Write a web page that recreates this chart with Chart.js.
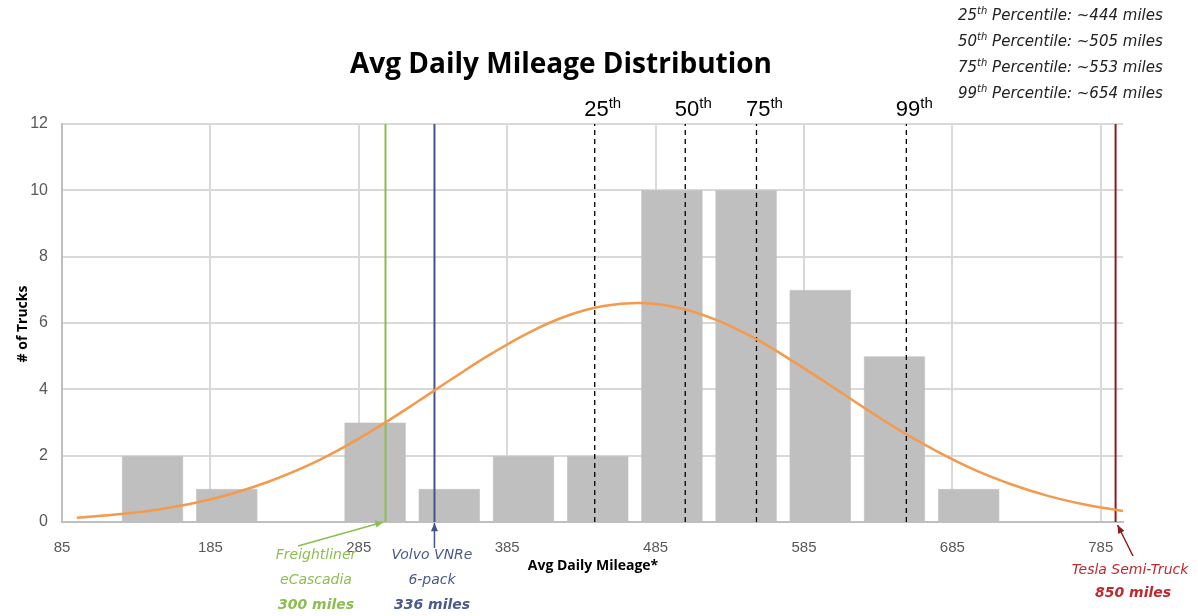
<!DOCTYPE html>
<html>
<head>
<meta charset="utf-8">
<script src="https://cdn.jsdelivr.net/npm/chart.js@4.4.1/dist/chart.umd.min.js"></script>
<style>
  body { margin: 0; background: #fff; }
</style>
</head>
<body>
<canvas id="chart" width="1198" height="616"></canvas>
<script>
// histogram bins (center of each 50-mile bin) and counts
const binCenters = [146, 196, 246, 296, 346, 396, 446, 496, 546, 596, 646, 696]
const truckCounts = [2, 1, 0, 3, 1, 2, 2, 10, 10, 7, 5, 1]

// fitted curve, values
const curveX = [95, 125, 150, 175, 200, 225, 250, 275, 300, 325, 350, 375, 400, 425, 450, 475,
                500, 525, 550, 575, 600, 625, 650, 675, 700, 725, 750, 775, 800]
const curveY = [0.13, 0.24, 0.38, 0.58, 0.86, 1.23, 1.69, 2.26, 2.92, 3.64, 4.38, 5.09, 5.72, 6.21, 6.51, 6.60,
                6.46, 6.11, 5.58, 4.92, 4.20, 3.46, 2.75, 2.12, 1.57, 1.13, 0.78, 0.52, 0.33]

// percentiles
const pctNames = ["25", "50", "75", "99"]
const pctMiles = [444, 505, 553, 654]

// trucks (tesla is drawn at the right edge of the axis)
const truckNames = [["Freightliner", "eCascadia"], ["Volvo VNRe", "6-pack"], ["Tesla Semi-Truck"]]
const truckRange = [300, 336, 850]
const truckLineX = [303, 336, 795]

const xTicks = [85, 185, 285, 385, 485, 585, 685, 785]
const yTicks = [0, 2, 4, 6, 8, 10, 12]

const truckColors = ["#8cbd4f", "#44548a", "#8b1c1c"]
const truckTextColors = ["#8cbd4f", "#4a5a8e", "#c0282d"]

let datasets = []

// percentile dashed lines
pctMiles.forEach(function(m) {
    datasets.push({
        type: 'line',
        data: [{x: m, y: 0}, {x: m, y: 12}],
        borderColor: '#000',
        borderWidth: 1.3,
        borderDash: [5, 4],
        pointRadius: 0,
        order: 1
    })
})

// truck range lines
truckLineX.forEach(function(m, i) {
    datasets.push({
        type: 'line',
        data: [{x: m, y: 0}, {x: m, y: 12}],
        borderColor: truckColors[i],
        borderWidth: 2,
        pointRadius: 0,
        order: 1
    })
})

datasets.push({
    type: 'line',
    data: curveX.map((x, i) => ({x: x, y: curveY[i]})),
    borderColor: '#f39a4c',
    borderWidth: 2.5,
    tension: 0.4,
    pointRadius: 0,
    order: 0
})

datasets.push({
    type: 'bar',
    data: binCenters.map((x, i) => ({x: x, y: truckCounts[i]})),
    backgroundColor: '#bfbfbf',
    borderColor: '#b0b0b0',
    borderWidth: 0.5,
    barPercentage: 0.83,
    categoryPercentage: 1,
    order: 2
})

function superText(ctx, base, sup, x, y, baseFont, supFont, align, lift) {
    ctx.font = baseFont
    let w1 = ctx.measureText(base).width
    ctx.font = supFont
    let w2 = ctx.measureText(sup).width
    let left = align == 'center' ? x - (w1 + w2) / 2 : x
    ctx.textAlign = 'left'
    ctx.font = baseFont
    ctx.fillText(base, left, y)
    ctx.font = supFont
    ctx.fillText(sup, left + w1, y - lift)
    return left + w1 + w2
}

const textPlugin = {
    id: 'texts',
    afterDraw(chart) {
        const ctx = chart.ctx
        const xs = chart.scales.x
        const ys = chart.scales.y
        ctx.save()
        ctx.textBaseline = 'alphabetic'

        // title
        ctx.fillStyle = '#000'
        ctx.textAlign = 'center'
        ctx.font = 'bold 28px "Open Sans"'
        ctx.fillText("Avg Daily Mileage Distribution", 561, 73)

        // percentile labels above lines
        ctx.fillStyle = '#000'
        pctMiles.forEach(function(m, i) {
            superText(ctx, pctNames[i], "th", xs.getPixelForValue(m) + 8, 116,
                '22px "Liberation Sans"', '15px "Liberation Sans"', 'center', 8)
        })

        // legend of percentiles at top right
        ctx.fillStyle = '#222'
        pctNames.forEach(function(p, i) {
            let y = 20 + i * 26
            let end = superText(ctx, p, "th", 958, y, 'oblique 15px "DejaVu Sans"', 'oblique 10px "DejaVu Sans"', 'left', 6)
            ctx.font = 'oblique 15px "DejaVu Sans"'
            ctx.fillText(" Percentile: ~" + pctMiles[i] + " miles", end, y)
        })

        // axis titles
        ctx.fillStyle = '#000'
        ctx.font = 'bold 14px "Open Sans"'
        ctx.textAlign = 'center'
        ctx.fillText("Avg Daily Mileage*", 593, 570)
        ctx.save()
        ctx.translate(27, 324)
        ctx.rotate(-Math.PI / 2)
        ctx.fillText("# of Trucks", 0, 0)
        ctx.restore()

        // truck annotations
        const bottom = ys.getPixelForValue(0)
        const labelX = [316, 432, 1130]
        truckLineX.forEach(function(m, i) {
            let lx = xs.getPixelForValue(m)
            let from, to
            if (i == 0) { from = [298, 546]; to = [lx - 2, bottom] }
            if (i == 1) { from = [lx, 548]; to = [lx, bottom + 1] }
            if (i == 2) { from = [1133, 556]; to = [lx + 2, bottom + 3] }
            ctx.strokeStyle = truckColors[i]
            ctx.fillStyle = truckColors[i]
            ctx.lineWidth = 1.5
            ctx.beginPath()
            ctx.moveTo(from[0], from[1])
            ctx.lineTo(to[0], to[1])
            ctx.stroke()
            let a = Math.atan2(to[1] - from[1], to[0] - from[0])
            ctx.beginPath()
            ctx.moveTo(to[0], to[1])
            ctx.lineTo(to[0] - 9 * Math.cos(a - 0.4), to[1] - 9 * Math.sin(a - 0.4))
            ctx.lineTo(to[0] - 9 * Math.cos(a + 0.4), to[1] - 9 * Math.sin(a + 0.4))
            ctx.closePath()
            ctx.fill()

            ctx.fillStyle = truckTextColors[i]
            ctx.textAlign = 'center'
            let y = i == 2 ? 574 : 559
            truckNames[i].forEach(function(t) {
                ctx.font = 'oblique 14px "DejaVu Sans"'
                ctx.fillText(t, labelX[i], y)
                y += 25
            })
            ctx.font = 'bold oblique 14px "DejaVu Sans"'
            ctx.fillText(truckRange[i] + " miles", labelX[i] + (i == 2 ? 3 : 0), y - (i == 2 ? 2 : 0))
        })
        ctx.restore()
    }
}

new Chart(document.getElementById('chart'), {
    type: 'bar',
    data: { datasets: datasets },
    options: {
        responsive: false,
        animation: false,
        devicePixelRatio: 1,
        layout: { padding: { top: 124, right: 75, left: 0, bottom: 0 } },
        plugins: { legend: { display: false }, tooltip: { enabled: false } },
        scales: {
            x: {
                type: 'linear',
                min: 85,
                max: 800,
                offset: false,
                afterBuildTicks: function(scale) {
                    scale.ticks = xTicks.map(v => ({value: v}))
                },
                afterFit: function(scale) { scale.height = 94 },
                grid: { color: '#d9d9d9', lineWidth: 2, drawTicks: false, offset: false },
                border: { color: '#bfbfbf', width: 2 },
                ticks: { color: '#595959', font: { size: 15, family: '"Liberation Sans Narrow", "Liberation Sans"' }, padding: 17, maxRotation: 0 }
            },
            y: {
                min: 0,
                max: 12,
                afterBuildTicks: function(scale) {
                    scale.ticks = yTicks.map(v => ({value: v}))
                },
                afterFit: function(scale) { scale.width = 62 },
                grid: { color: '#d9d9d9', lineWidth: 2, drawTicks: false },
                border: { color: '#bfbfbf', width: 2 },
                ticks: { color: '#595959', font: { size: 16, family: '"Liberation Sans Narrow", "Liberation Sans"' }, padding: 14 }
            }
        }
    },
    plugins: [textPlugin]
})
</script>
</body>
</html>
